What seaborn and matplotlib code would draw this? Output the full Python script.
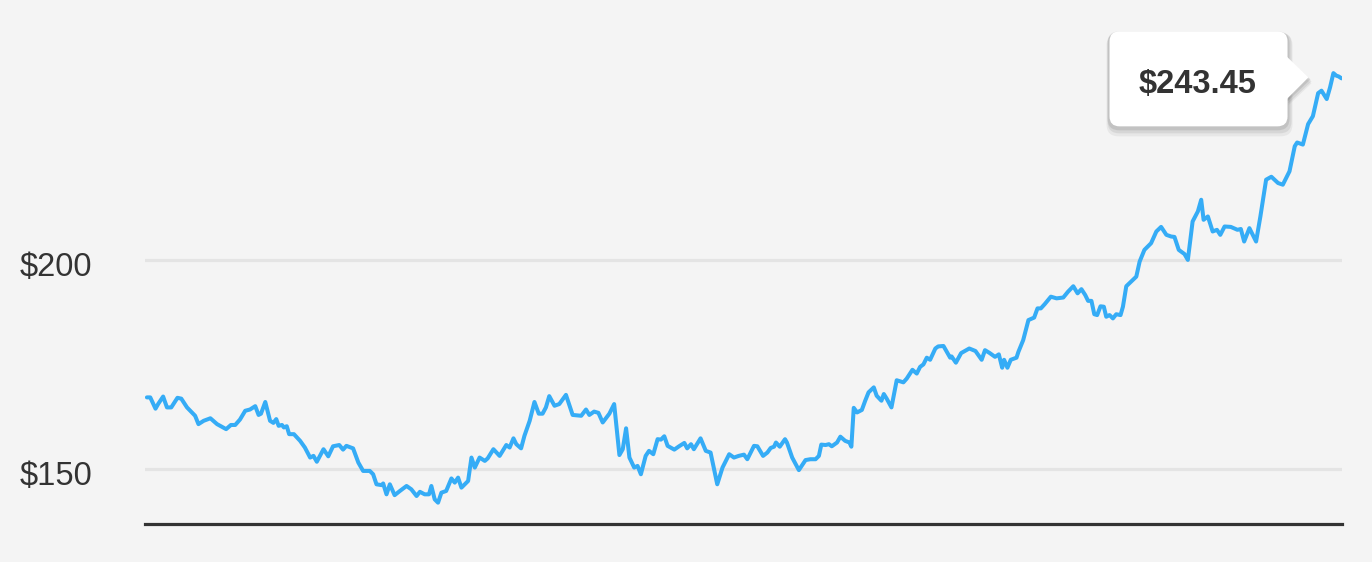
import matplotlib.pyplot as plt
import seaborn as sns
from matplotlib.patches import FancyBboxPatch, Polygon
from matplotlib.transforms import IdentityTransform, ScaledTranslation

# trading day index and closing price
day = [0.1, 0.8, 1.9, 2.5, 3.5, 4.3, 5.2, 6.5, 7.3, 8.5,
       10.2, 10.9, 12.0, 13.4, 14.8, 16.7, 17.7, 18.6, 19.6, 20.7,
       21.7, 22.8, 23.5, 24.0, 24.9, 25.9, 26.6, 27.2, 27.7, 28.4,
       28.8, 29.4, 29.9, 30.9, 32.2, 33.2, 34.3, 35.0, 35.7, 37.1,
       38.1, 39.1, 40.4, 41.2, 41.9, 43.3, 44.4, 45.4, 46.8, 47.5,
       48.2, 49.3, 49.6, 50.3, 51.0, 52.0, 53.1, 54.5, 55.5, 56.6,
       57.3, 58.3, 59.2, 59.7, 60.4, 61.1, 61.8, 62.8, 63.9, 64.6,
       65.3, 66.0, 66.7, 67.4, 68.1, 68.8, 69.8, 70.9, 71.5, 72.7,
       74.0, 75.4, 76.1, 76.9, 77.5, 78.5, 79.2, 80.3, 81.3, 82.2,
       83.0, 83.7, 84.4, 85.5, 86.5, 87.9, 89.3, 91.1, 92.1, 92.8,
       93.8, 94.7, 95.6, 97.0, 98.0, 99.1, 99.8, 100.5, 101.2, 102.2,
       102.9, 103.6, 104.6, 105.3, 106.2, 107.1, 107.8, 108.5, 109.2, 110.6,
       111.6, 112.7, 113.3, 114.1, 114.7, 116.1, 117.2, 118.2, 119.6, 120.7,
       122.1, 123.1, 124.1, 125.2, 125.9, 127.3, 128.0, 129.2, 130.1, 130.8,
       131.5, 131.9, 132.7, 133.8, 134.2, 135.3, 136.7, 138.1, 139.1, 140.2,
       140.9, 141.4, 142.3, 143.0, 143.6, 144.7, 145.4, 146.4, 147.3, 147.7,
       148.2, 148.9, 149.9, 150.6, 151.3, 152.4, 153.0, 154.0, 154.5, 155.1,
       156.1, 157.2, 158.6, 159.3, 160.5, 161.4, 162.1, 162.8, 163.5, 164.2,
       165.3, 165.9, 167.0, 168.4, 168.7, 169.6, 170.7, 172.4, 173.7, 175.0,
       175.7, 176.7, 177.8, 178.6, 179.3, 179.7, 180.4, 181.1, 182.3, 182.7,
       183.7, 184.8, 186.0, 186.7, 187.4, 188.2, 189.5, 190.7, 192.1, 193.1,
       194.2, 195.1, 195.9, 196.7, 197.3, 198.0, 198.6, 199.2, 199.9, 200.6,
       201.1, 201.8, 202.5, 203.2, 204.1, 204.6, 205.3, 206.3, 207.4, 208.1,
       209.1, 210.5, 211.6, 212.6, 213.7, 214.7, 215.4, 216.3, 217.5, 218.2,
       219.2, 220.3, 221.0, 221.5, 222.4, 223.4, 224.3, 225.0, 225.9, 227.2,
       228.6, 229.3, 230.0, 231.1, 232.5, 233.4, 234.6, 235.7, 237.1, 238.1,
       239.5, 240.6, 241.1, 242.3, 243.4, 244.4, 245.5, 246.2, 247.3, 248.0,
       248.7, 249.3, 249.8, 250.4]
price = [167.1, 167.1, 164.4, 165.6, 167.3, 164.7, 164.7, 167.0, 166.8, 164.7,
         162.7, 160.7, 161.5, 162.1, 160.7, 159.5, 160.5, 160.5, 161.8, 163.9,
         164.2, 165.0, 162.9, 163.2, 166.0, 161.5, 161.0, 161.9, 160.3, 160.5,
         159.9, 160.2, 158.3, 158.3, 156.7, 155.1, 152.7, 153.1, 151.7, 154.7,
         153.0, 155.4, 155.7, 154.6, 155.5, 154.9, 151.5, 149.5, 149.5, 148.7,
         146.3, 146.1, 146.5, 143.9, 146.3, 143.7, 144.7, 145.9, 145.1, 143.5,
         144.5, 143.9, 143.9, 145.9, 142.7, 141.9, 144.3, 144.7, 147.7, 146.7,
         147.9, 145.5, 146.3, 147.1, 152.7, 150.3, 152.7, 151.9, 152.5, 154.7,
         153.1, 155.7, 155.1, 157.3, 155.9, 154.9, 157.9, 161.5, 166.0, 163.2,
         163.2, 164.7, 167.4, 165.1, 165.5, 167.7, 162.9, 162.7, 164.2, 162.9,
         163.7, 163.4, 161.1, 163.2, 165.5, 153.3, 154.7, 159.7, 152.7, 150.3,
         150.7, 148.7, 153.1, 154.3, 153.5, 157.1, 157.0, 157.8, 155.5, 154.6,
         155.4, 156.2, 154.9, 155.9, 154.7, 157.3, 154.3, 153.9, 146.3, 150.3,
         153.5, 152.7, 153.1, 153.4, 152.3, 155.5, 155.4, 153.1, 153.9, 155.0,
         155.3, 156.3, 155.3, 157.1, 156.3, 152.7, 149.7, 152.1, 152.3, 152.3,
         153.1, 155.8, 155.7, 155.9, 155.4, 156.3, 157.7, 156.7, 156.3, 155.3,
         164.6, 163.5, 164.1, 166.3, 168.3, 169.5, 167.5, 166.3, 167.9, 166.8,
         164.7, 171.2, 170.7, 171.6, 173.7, 172.8, 174.4, 175.0, 176.6, 176.1,
         178.8, 179.3, 179.4, 176.6, 176.9, 175.4, 177.7, 178.8, 178.2, 176.1,
         178.4, 177.7, 176.8, 177.4, 174.2, 176.1, 174.2, 176.1, 176.6, 178.0,
         180.8, 185.6, 186.2, 188.4, 188.4, 189.4, 191.2, 190.8, 191.0, 192.4,
         193.7, 192.0, 193.0, 191.6, 190.2, 190.2, 187.0, 186.8, 188.9, 188.8,
         186.4, 186.8, 186.0, 187.0, 186.8, 188.8, 193.7, 194.8, 196.0, 199.6,
         202.4, 204.0, 206.8, 207.9, 206.0, 205.6, 205.5, 202.4, 201.4, 200.0,
         209.2, 211.6, 214.4, 209.6, 210.4, 206.8, 207.2, 206.0, 208.0, 207.9,
         207.2, 207.4, 204.4, 207.6, 204.4, 210.4, 219.2, 219.9, 218.4, 218.0,
         221.2, 227.2, 228.1, 227.6, 232.5, 234.4, 239.9, 240.5, 238.5, 241.3,
         244.7, 244.1, 243.9, 243.45]
ytick_values = [150, 200]
ytick_labels = ["\\$150", "\\$200"]

BG = "#f4f4f4"
LINE = "#35acf6"
TEXT = "#333333"
GRID = "#e4e4e4"

sns.set_theme(style="white")
plt.rcParams["font.family"] = ["Liberation Sans", "DejaVu Sans"]

W, H = 1372, 562
fig = plt.figure(figsize=(W / 100, H / 100), dpi=100, facecolor=BG)
ax = fig.add_axes([145 / W, 1 - 524 / H, (1342 - 145) / W, 524 / H])
ax.set_facecolor(BG)

sns.lineplot(x=day, y=price, ax=ax, color=LINE, linewidth=2.9,
             sort=False, estimator=None, zorder=3,
             solid_joinstyle="round", solid_capstyle="round")

ax.set_xlim(-0.3, 250.5)
ax.set_ylim(136.8, 262.2)
ax.set_xticks([])
ax.set_yticks(ytick_values, labels=ytick_labels)
ax.tick_params(axis="y", length=0, pad=90, labelsize=23.5, labelcolor=TEXT)
nudge = ScaledTranslation(0, -4 / 100, fig.dpi_scale_trans)
for lbl in ax.get_yticklabels():
    lbl.set_horizontalalignment("left")
    lbl.set_transform(lbl.get_transform() + nudge)
ax.grid(axis="y", color=GRID, linewidth=2.3)
ax.set_axisbelow(True)
for side in ["top", "right", "left"]:
    ax.spines[side].set_visible(False)
ax.spines["bottom"].set_color(TEXT)
ax.spines["bottom"].set_linewidth(2.3)
ax.set_xlabel("")
ax.set_ylabel("")

# tooltip callout on the last close, in display pixels
lx, ly = ax.transData.transform((day[-1], price[-1]))
left, right, bottom, top = lx - 232, lx - 54, ly - 48, ly + 47
tip = (lx - 33, ly + 1)
ident = IdentityTransform()

for i, (dx, dy, a) in enumerate([(1, -6, 0.05), (1, -4, 0.07), (0, -2, 0.09)]):
    grow = 4 - i
    fig.add_artist(FancyBboxPatch(
        (left - grow + dx, bottom - grow + dy), right - left + 2 * grow,
        top - bottom + 2 * grow, boxstyle="round,pad=0,rounding_size=12",
        facecolor="black", edgecolor="none", alpha=a, transform=ident, zorder=4))
    fig.add_artist(Polygon(
        [(right + dx, ly + 22 + dy), (tip[0] + dx + 2, tip[1] + dy),
         (right + dx, ly - 21 + dy)],
        facecolor="black", edgecolor="none", alpha=a, transform=ident, zorder=4))

fig.add_artist(FancyBboxPatch(
    (left, bottom), right - left, top - bottom,
    boxstyle="round,pad=0,rounding_size=10",
    facecolor="white", edgecolor="none", transform=ident, zorder=5))
fig.add_artist(Polygon(
    [(right - 1, ly + 22), tip, (right - 1, ly - 21)],
    facecolor="white", edgecolor="none", transform=ident, zorder=5))
fig.text(lx - 144, ly - 6, f"\\${price[-1]:.2f}", transform=ident,
         ha="center", va="center", fontsize=23.5, fontweight="bold",
         color=TEXT, zorder=6)

fig.savefig("out.png", dpi=100, facecolor=BG)
